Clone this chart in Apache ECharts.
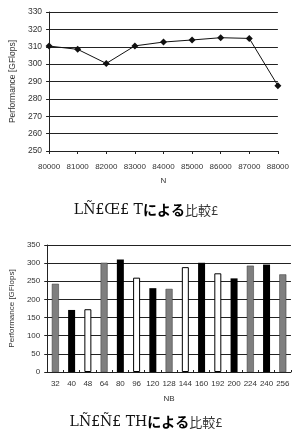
<!DOCTYPE html>
<html><head><meta charset="utf-8">
<script src="https://cdn.jsdelivr.net/npm/echarts@6/dist/echarts.min.js"></script>
<style>html,body{margin:0;padding:0;background:#fff}#c{width:292px;height:429px}</style>
</head><body><div id="c"></div>
<script>
// Chart 1: performance vs N
const nCategories = ['80000','81000','82000','83000','84000','85000','86000','87000','88000'];
const nPerf = [310.4, 308.5, 300.4, 310.5, 312.7, 313.9, 315.2, 314.8, 287.6];
const yTicks1 = {min: 250, max: 330, interval: 10};

// Chart 2: performance vs NB (three bar groups)
const nbCategories = ['32','40','48','64','80','96','120','128','144','160','192','200','224','240','256'];
const nbGray  = [243, null, null, 301, null, null, null, 229, null, null, null, null, 293, null, 269];
const nbBlack = [null, 171, null, null, 310, null, 231, null, null, 301, null, 258, null, 296, null];
const nbWhite = [null, null, 173, null, null, 260, null, null, 289, null, 272, null, null, null, null];
const yTicks2 = {min: 0, max: 350, interval: 50};

const title1 = ['LÑ£Œ£ T', 'による', '比較£'];
const title2 = ['LÑ£Ñ£ TH', 'による', '比較£'];

const labelStyle = {color: '#333', fontSize: 8, fontFamily: 'Liberation Sans, Arial, sans-serif'};
const yLabelStyle = {color: '#333', fontSize: 8.5, fontFamily: 'Liberation Sans, Arial, sans-serif'};
const gridLine = {show: true, lineStyle: {color: '#222', width: 1}};
const axisLine = {show: true, lineStyle: {color: '#222', width: 1}};

function richTitle(parts, top) {
  return {
    text: '{a|' + parts[0] + '}{b|' + parts[1] + '}{c|' + parts[2] + '}',
    left: 'center', top: top,
    textStyle: {
      rich: {
        a: {fontFamily: 'DejaVu Serif, serif', fontSize: 14, color: '#111', fontWeight: 'normal'},
        b: {fontFamily: 'Noto Sans CJK JP', fontSize: 14, color: '#000', fontWeight: 'bold'},
        c: {fontFamily: 'Noto Sans CJK JP', fontSize: 13, color: '#333', fontWeight: 'normal'}
      }
    }
  };
}

const chart = echarts.init(document.getElementById('c'), null, {renderer: 'canvas'});
chart.setOption({
  animation: false,
  backgroundColor: '#fff',
  title: [richTitle(title1, 198), richTitle(title2, 410)],
  grid: [
    {left: 40, right: 14, top: 12, height: 139},
    {left: 36, right: -2, top: 245, height: 127}
  ],
  xAxis: [
    {gridIndex: 0, type: 'category', data: nCategories, boundaryGap: false,
     axisLine: axisLine, axisTick: {show: true, length: 3, lineStyle: {color: '#222'}},
     axisLabel: Object.assign({margin: 12, interval: 0}, labelStyle),
     splitLine: {show: false},
     name: 'N', nameLocation: 'middle', nameGap: 26, nameTextStyle: labelStyle},
    {gridIndex: 1, type: 'category', data: nbCategories, boundaryGap: true,
     axisLine: axisLine, axisTick: {show: true, inside: true, length: 2, interval: 0, lineStyle: {color: '#222'}},
     axisLabel: Object.assign({margin: 8, interval: 0}, labelStyle),
     splitLine: {show: false},
     name: 'NB', nameLocation: 'middle', nameGap: 23, nameTextStyle: labelStyle}
  ],
  yAxis: [
    {gridIndex: 0, type: 'value', min: yTicks1.min, max: yTicks1.max, interval: yTicks1.interval,
     axisLine: axisLine, axisTick: {show: true, length: 3, lineStyle: {color: '#222'}},
     axisLabel: Object.assign({margin: 7}, yLabelStyle),
     splitLine: gridLine,
     name: 'Performance [GFlops]', nameLocation: 'middle', nameGap: 31, nameTextStyle: yLabelStyle},
    {gridIndex: 1, type: 'value', min: yTicks2.min, max: yTicks2.max, interval: yTicks2.interval,
     axisLine: axisLine, axisTick: {show: true, length: 3, lineStyle: {color: '#222'}},
     axisLabel: Object.assign({margin: 7}, labelStyle),
     splitLine: gridLine,
     name: 'Performance [GFlops]', nameLocation: 'middle', nameGap: 28, nameTextStyle: labelStyle}
  ],
  series: [
    {type: 'line', xAxisIndex: 0, yAxisIndex: 0, data: nPerf,
     symbol: 'diamond', symbolSize: 7, lineStyle: {color: '#111', width: 1},
     itemStyle: {color: '#111'}},
    {type: 'bar', xAxisIndex: 1, yAxisIndex: 1, data: nbGray, barWidth: 7, barGap: '-100%',
     itemStyle: {color: '#7f7f7f', borderColor: '#333', borderWidth: 0.5}},
    {type: 'bar', xAxisIndex: 1, yAxisIndex: 1, data: nbBlack, barWidth: 7, barGap: '-100%',
     itemStyle: {color: '#000'}},
    {type: 'bar', xAxisIndex: 1, yAxisIndex: 1, data: nbWhite, barWidth: 7, barGap: '-100%',
     itemStyle: {color: '#fff', borderColor: '#000', borderWidth: 1}}
  ]
});
</script></body></html>
